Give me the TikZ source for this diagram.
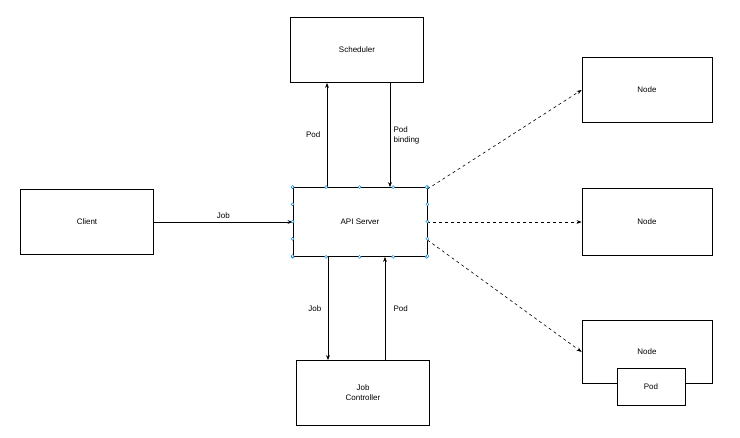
\documentclass[tikz,border=0pt]{standalone}
\usepackage{fontspec}
\setmainfont{Liberation Sans}
\usetikzlibrary{arrows.meta}

\begin{document}
\begin{tikzpicture}
   [x=1pt,y=-1pt,font=\fontsize{8}{10}\selectfont,
    box/.style={draw,thick,minimum width=133pt,minimum height=65pt,align=center},
    link/.style={->,>={Stealth[length=5pt]},semithick},
    hint/.style={link,dashed},
    handle/.style={circle,draw=cyan!70!blue,fill=white,inner sep=0pt,minimum size=3pt}]
   \useasboundingbox (0,0) rectangle (740,438);

   \node[box] (sched) at (357,50) {Scheduler};
   \node[box] (client) at (87,222) {Client};
   \node[box,minimum width=134pt,minimum height=69pt] (api) at (360,222) {API Server};
   \node[box] (ctrl) at (363,393) {Job\\Controller};
   \node[box,minimum width=130pt] (nodeA) at (647,90) {Node};
   \node[box,minimum width=130pt,minimum height=67pt] (nodeB) at (647,222) {Node};
   \node[box,minimum width=130pt,minimum height=63pt,anchor=north] (nodeC) at (647,320) {};
   \node at (647,352) {Node};
   \node[box,minimum width=68pt,minimum height=37pt,fill=white] (pod) at (651,387) {Pod};

   % requests through the API server
   \draw[link] (client) -- node[above] {Job} (api);
   \draw[link] (api.north -| 327,0) -- node[left=3pt] {Pod} (sched.south -| 327,0);
   \draw[link] (sched.south -| 390,0) -- node[right,align=left] {Pod\\binding} (api.north -| 390,0);
   \draw[link] (api.south -| 328,0) -- node[left=3pt] {Job} (ctrl.north -| 328,0);
   \draw[link] (ctrl.north -| 385,0) -- node[right=5pt] {Pod} (api.south -| 385,0);

   % to the nodes
   \draw[hint] (api.north east) ++(0,2) -- (nodeA.west);
   \draw[hint] (api.east) -- (nodeB.west);
   \draw[hint] (api.east) ++(0,18) -- (nodeC.west);

   % selection handles
   \foreach \x in {0,0.25,0.5,0.75,1}
      \path (api.north west) ++(134*\x,0) node[handle] {}
            (api.south west) ++(134*\x,0) node[handle] {}
            (api.north west) ++(0,69*\x) node[handle] {}
            (api.north east) ++(0,69*\x) node[handle] {};
\end{tikzpicture}
\end{document}
